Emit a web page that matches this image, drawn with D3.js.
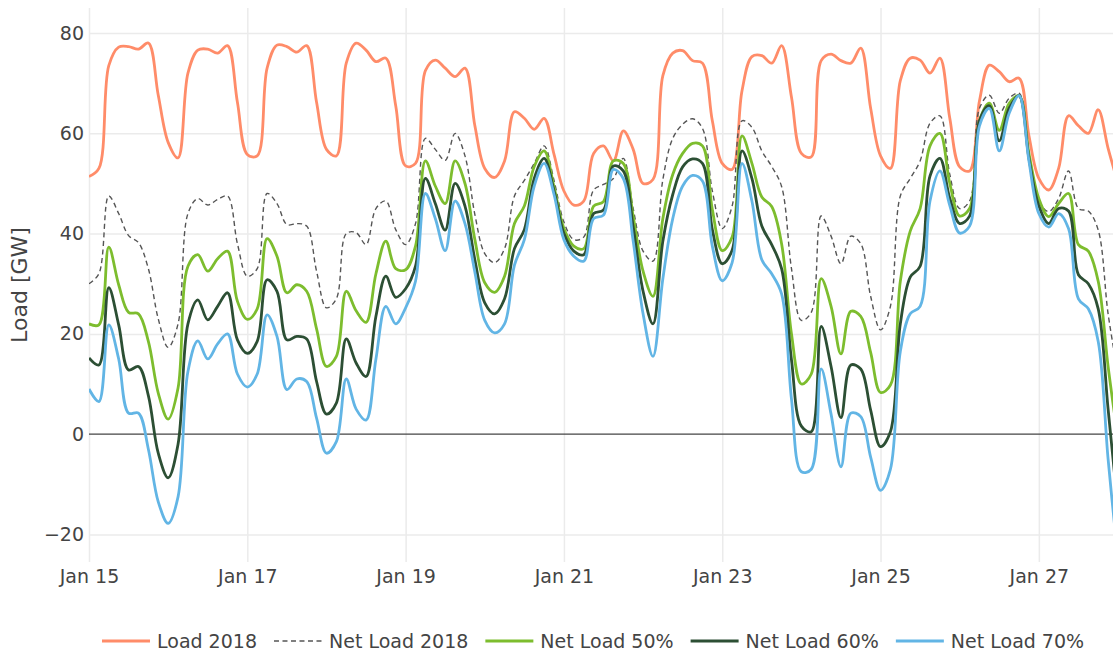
<!DOCTYPE html>
<html><head><meta charset="utf-8">
<script src="https://cdn.jsdelivr.net/npm/d3@7"></script>
<style>
html,body{margin:0;padding:0;background:#fff;}
svg{display:block;}
text{font-family:Verdana,"DejaVu Sans",sans-serif;fill:#444;}
</style></head><body>
<svg id="chart" width="1113" height="652"></svg>
<script>
// ---------- DATA (3-hourly readings, starting Jan 15 2018 00:00) ----------
const startDate = new Date(2018, 0, 15, 0, 0);
const stepHours = 3;
const load2018 = [
  51.4, 53, 73.5, 77.2, 77.3, 76.8, 78, 67.6,
  58.2, 55.1, 72, 76.6, 76.8, 76, 77.5, 66.2,
  55.8, 55.5, 73, 77.6, 77.3, 76.2, 77.5, 66.2,
  56.8, 55.5, 74, 78, 76.6, 74.3, 75, 65.5,
  53.5, 54, 72.5, 74.6, 73, 71.3, 73, 61.5,
  53, 51.2, 54.5, 64.3, 63, 60.8, 63, 55.8,
  48.5, 45.7, 46.5, 56, 57.5, 54.5, 60.5, 56.8,
  50, 50.8, 71.5, 76, 76.5, 74.5, 74, 62.5,
  54, 52.8, 68.5, 75.3, 75.5, 74, 77.5, 67.2,
  56, 55.3, 74.5, 75.8, 74.5, 74, 77, 65,
  55.5, 53, 70.5, 75, 74.6, 72, 75, 63,
  53.3, 52.5, 66.5, 73.6, 72.3, 70.3, 71, 59.5,
  51, 48.7, 53, 63.5, 61.5, 60, 64.7, 57,
  50
];
const netLoad2018 = [
  30, 32, 47.5, 44, 39.6, 38.2, 33, 23,
  17.3, 22, 44, 47, 45.7, 46.8, 47.5, 38,
  31.5, 33, 48, 46, 41.8, 42, 41.5, 32.5,
  25.2, 27, 40, 40.2, 37.8, 45, 46.5, 40.8,
  37.8, 42, 59, 56.8, 54.6, 60, 55.5, 43.8,
  36, 34.2, 37, 47.5, 50.6, 54, 57.5, 50.6,
  42.3, 38.8, 39.3, 48.7, 49.8, 51, 55, 45,
  36.5, 34.5, 50.8, 59, 61.8, 62.9, 61, 48.5,
  41, 45.5, 62.5, 61.2, 56.5, 53.4, 49.4, 33,
  22.7, 24.3, 43.5, 39.5, 34, 39.5, 38, 27.5,
  20.8, 25.5, 47.5, 51, 54.5, 62, 63.5, 51.8,
  45, 46.5, 65, 67.6, 64, 67, 68, 56,
  46.5, 44.4, 47, 52.5, 45, 44.5, 40.7, 24,
  12
];
const netLoad50 = [
  22, 21.8, 37.3, 29.8, 24.3, 24, 18.5, 8.2,
  3, 9.2, 33.5, 35.8, 32.5, 35, 36.5, 26.5,
  22.9, 25, 39, 35.5, 28.2, 29.8, 28.5, 21,
  13.5, 15.5, 28.5, 24.6, 22.3, 32, 38.5, 33,
  32.8, 37.5, 54.5, 49.5, 46, 54.5, 50, 38.8,
  30.2, 28.3, 31.5, 42, 45.5, 53.4, 56.5, 49.3,
  41, 37.5, 37, 45.5, 46.4, 54.5, 54, 43.4,
  32.5, 27.5, 43, 51.8, 56, 58, 57.5, 44.8,
  36.6, 39.3, 59.5, 54, 47.3, 45.4, 38, 20,
  10, 12, 31, 25.5, 16, 24.5, 23.5, 16.3,
  8.3, 9.8, 30.5, 40.5, 45, 57.5, 60, 50,
  43.5, 45, 62.5, 66, 60.6, 66, 67.5, 56,
  47, 43.4, 46, 48, 37.8, 36.5, 30.5, 13.5,
  -1
];
const netLoad60 = [
  15.2, 13.8, 29.2, 21.8, 12.8, 13.5, 7.7, -3.8,
  -8.7, -2, 22, 26.8, 22.8, 25.5, 28.2, 18.8,
  16.1, 18.5, 30.8, 28.5, 18.8, 19.5, 19, 10.5,
  4, 6.2, 19, 14.2, 11.5, 23.5, 31.5, 27.3,
  29, 33.5, 51, 46, 40.7, 50, 45.5, 34.8,
  26.2, 24, 27, 37, 40.8, 51, 55, 48.5,
  40, 36.5, 35.8, 44, 44.7, 53.5, 52.5, 41.3,
  28.5, 22, 38.5, 47.8, 53.3, 54.9, 54, 40.8,
  34, 36.7, 56.5, 51, 41.5, 37.8, 33, 14.8,
  1.6, 0.5, 21.5, 13.5, 3.3, 13.8, 13, 4.8,
  -2.5, 0.5, 22, 31.3, 33.5, 51.5, 55, 47,
  42, 43.5, 62.5, 65.5, 58.5, 65, 67.5, 55,
  45.5, 42, 45, 44.5, 31.8, 30, 25, 5,
  -15
];
const netLoad70 = [
  9, 6.5, 21.8, 15, 4.2, 4.2, -3, -13.5,
  -17.8, -12.5, 12.5, 18.6, 15, 18, 20, 12,
  9.4, 12, 23.8, 19.5, 8.9, 11, 10.5, 3.2,
  -3.8, -1.5, 11, 5, 2.8, 15, 25.5, 22,
  25.2, 30.5, 48, 43, 36.6, 46.5, 42, 32.3,
  22.7, 20.2, 22, 33.7, 38.8, 49.5, 54, 47.8,
  38.8, 35.5, 34.5, 43, 43.7, 52.8, 51, 38.5,
  24, 15.5, 31, 43, 49.5, 51.6, 50.5, 37.5,
  30.6, 34.2, 54, 46.5, 34.8, 32, 28, 7,
  -7.5, -7, 13, 4, -6.5, 4.2, 3.5, -4.6,
  -11.2, -7, 16.5, 24, 25.5, 46.5, 52.5, 45.6,
  40.1, 41.5, 61.5, 65, 56.5, 64, 67.5, 54.5,
  44, 41.3, 44, 41, 27, 25, 18.5, -5,
  -25
];
const seriesNames = ["Load 2018", "Net Load 2018", "Net Load 50%", "Net Load 60%", "Net Load 70%"];
const yTickValues = [-20, 0, 20, 40, 60, 80];
const xTickDays = [15, 17, 19, 21, 23, 25, 27];
const yAxisTitle = "Load [GW]";

// ---------- STYLE ----------
const colors = ["#ff8c69", "#555555", "#7dbd2e", "#2c4f34", "#62b5e5"];
const widths = [2.8, 1.4, 2.8, 2.8, 2.8];
const dashes = [null, "5,3.5", null, null, null];
const fontFamily = 'Verdana,"DejaVu Sans",sans-serif';

const W = 1113, H = 652;
const plot = {left: 89, right: 1118, top: 8, bottom: 562};

const svg = d3.select("#chart");

const x = d3.scaleTime()
  .domain([startDate, new Date(2018, 0, 28, 0, 0)])
  .range([plot.left, plot.right]);
const y = d3.scaleLinear()
  .domain([-25.5, 85])
  .range([plot.bottom, plot.top]);

// grid
const gy = svg.append("g").attr("transform", `translate(${plot.left},0)`)
  .call(d3.axisLeft(y).tickValues(yTickValues.filter(v => v !== 0)).tickSize(-(plot.right - plot.left)).tickFormat(""));
gy.select(".domain").remove();
gy.selectAll("line").attr("stroke", "#ebebeb").attr("stroke-width", 1.5);

const xTicks = xTickDays.map(d => new Date(2018, 0, d));
const gx = svg.append("g").attr("transform", `translate(0,${plot.bottom})`)
  .call(d3.axisBottom(x).tickValues(xTicks).tickSize(-(plot.bottom - plot.top)).tickFormat(""));
gx.select(".domain").remove();
gx.selectAll("line").attr("stroke", "#ebebeb").attr("stroke-width", 1.5);

// zero line
svg.append("line")
  .attr("x1", plot.left).attr("x2", W)
  .attr("y1", y(0)).attr("y2", y(0))
  .attr("stroke", "#444").attr("stroke-width", 1.3);

// axis labels
const yl = svg.append("g").attr("transform", `translate(${plot.left},0)`)
  .call(d3.axisLeft(y).tickValues(yTickValues).tickSize(0).tickPadding(5));
yl.select(".domain").remove();
yl.selectAll("text").attr("font-size", "19px").style("font-family", fontFamily).attr("fill", "#444");

const xl = svg.append("g").attr("transform", `translate(0,${plot.bottom})`)
  .call(d3.axisBottom(x).tickValues(xTicks).tickSize(0).tickPadding(8).tickFormat(d3.timeFormat("%b %-d")));
xl.select(".domain").remove();
xl.selectAll("text").attr("font-size", "19px").style("font-family", fontFamily).attr("fill", "#444");

svg.append("text")
  .attr("transform", `translate(27,${(plot.top + plot.bottom) / 2}) rotate(-90)`)
  .attr("text-anchor", "middle")
  .attr("font-size", "22px")
  .text(yAxisTitle);

// clip
svg.append("clipPath").attr("id", "clip").append("rect")
  .attr("x", plot.left).attr("y", plot.top).attr("width", plot.right - plot.left).attr("height", plot.bottom - plot.top);

const allSeries = [load2018, netLoad2018, netLoad50, netLoad60, netLoad70];
const timeAt = i => new Date(startDate.getTime() + i * stepHours * 3600 * 1000);
const line = d3.line()
  .x((d, i) => x(timeAt(i)))
  .y(d => y(d))
  .curve(d3.curveCatmullRom.alpha(0.5));

const lines = svg.append("g").attr("clip-path", "url(#clip)");
allSeries.forEach((s, k) => {
  lines.append("path")
    .datum(s)
    .attr("d", line)
    .attr("fill", "none")
    .attr("stroke", colors[k])
    .attr("stroke-width", widths[k])
    .attr("stroke-dasharray", dashes[k])
    .attr("stroke-linejoin", "round");
});

// legend
const legend = svg.append("g");
let lx = 102;
const ly = 641;
seriesNames.forEach((name, k) => {
  legend.append("line")
    .attr("x1", lx).attr("x2", lx + 48)
    .attr("y1", ly).attr("y2", ly)
    .attr("stroke", colors[k])
    .attr("stroke-width", widths[k])
    .attr("stroke-dasharray", dashes[k]);
  const t = legend.append("text")
    .attr("x", lx + 55).attr("y", ly)
    .attr("dy", "0.36em")
    .attr("font-size", "19px")
    .text(name);
  lx = lx + 55 + t.node().getComputedTextLength() + 17;
});
</script>
</body></html>
